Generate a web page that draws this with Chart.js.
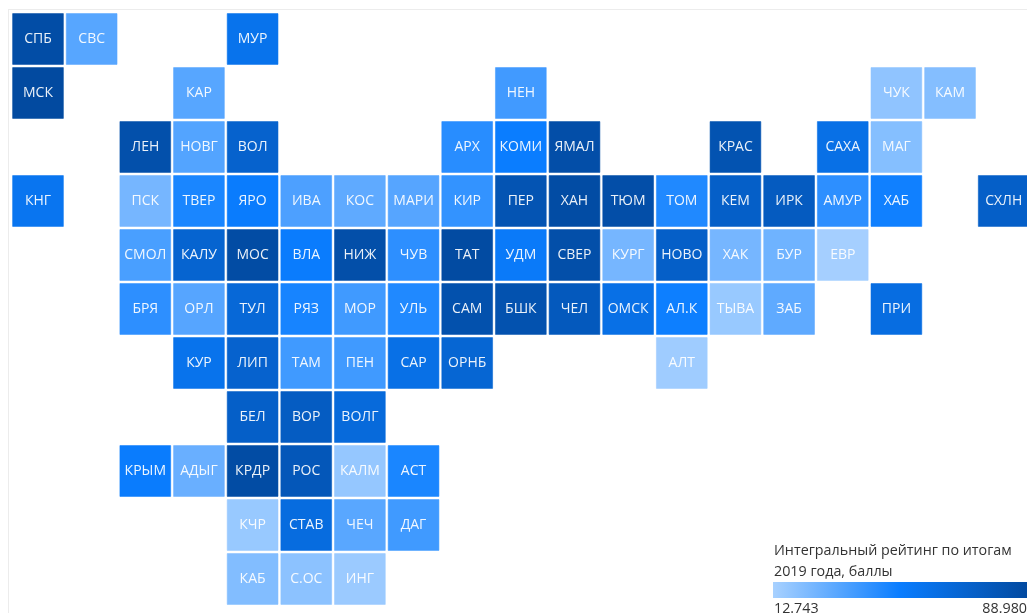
<!DOCTYPE html>
<html><head><meta charset="utf-8">
<script src="https://cdn.jsdelivr.net/npm/chart.js@4"></script>
<style>
html,body{margin:0;padding:0;background:#fff;overflow:hidden}
#wrap{position:absolute;left:0;top:0;width:1027px;height:613px}
#frame{position:absolute;left:8px;top:9px;width:1040px;height:640px;border:1px solid #ececec}
canvas{position:absolute;left:0;top:0}
</style></head><body>
<div id="wrap"><div id="frame"></div><canvas id="c" width="1027" height="613"></canvas></div>
<script>
const regions=["СПБ","СВС","МУР","МСК","КАР","НЕН","ЧУК","КАМ","ЛЕН","НОВГ","ВОЛ","АРХ","КОМИ","ЯМАЛ","КРАС","САХА","МАГ",
"КНГ","ПСК","ТВЕР","ЯРО","ИВА","КОС","МАРИ","КИР","ПЕР","ХАН","ТЮМ","ТОМ","КЕМ","ИРК","АМУР","ХАБ","СХЛН",
"СМОЛ","КАЛУ","МОС","ВЛА","НИЖ","ЧУВ","ТАТ","УДМ","СВЕР","КУРГ","НОВО","ХАК","БУР","ЕВР",
"БРЯ","ОРЛ","ТУЛ","РЯЗ","МОР","УЛЬ","САМ","БШК","ЧЕЛ","ОМСК","АЛ.К","ТЫВА","ЗАБ","ПРИ",
"КУР","ЛИП","ТАМ","ПЕН","САР","ОРНБ","АЛТ","БЕЛ","ВОР","ВОЛГ",
"КРЫМ","АДЫГ","КРДР","РОС","КАЛМ","АСТ","КЧР","СТАВ","ЧЕЧ","ДАГ","КАБ","С.ОС","ИНГ"];
const columns=[0,1,4,0,3,9,16,17,2,3,4,8,9,10,13,15,16,
0,2,3,4,5,6,7,8,9,10,11,12,13,14,15,16,18,
2,3,4,5,6,7,8,9,10,11,12,13,14,15,
2,3,4,5,6,7,8,9,10,11,12,13,14,16,
3,4,5,6,7,8,12,4,5,6,
2,3,4,5,6,7,4,5,6,7,4,5,6];
const rowsIdx=[0,0,0,1,1,1,1,1,2,2,2,2,2,2,2,2,2,
3,3,3,3,3,3,3,3,3,3,3,3,3,3,3,3,3,
4,4,4,4,4,4,4,4,4,4,4,4,4,4,
5,5,5,5,5,5,5,5,5,5,5,5,5,5,
6,6,6,6,6,6,6,7,7,7,
8,8,8,8,8,8,9,9,9,9,10,10,10];
const scores=[86.7,32.3,58.5,88.98,32.3,37.6,18.5,21.4,84.4,33.3,71.1,43.6,50.9,85.9,82.1,60.8,21.1,
57.0,24.9,47.0,51.6,34.8,30.3,32.6,41.0,81.4,87.5,85.9,45.5,73.0,76.0,42.5,49.3,73.0,
35.6,69.9,87.5,51.6,85.2,42.5,88.2,53.1,85.2,24.9,73.0,24.9,26.5,13.5,
42.5,32.6,66.9,47.8,37.9,45.5,83.6,82.9,77.5,60.8,50.1,16.5,30.3,63.0,
58.5,70.7,37.9,37.9,60.8,68.4,15.0,73.0,75.2,65.3,
51.6,28.0,87.5,79.0,17.3,47.0,16.5,63.8,31.8,37.9,21.9,19.6,15.8];
const scaleMin=12.743, scaleMax=88.980;
const legendTitle=["Интегральный рейтинг по итогам","2019 года, баллы"];
const legendLabels=["12.743","88.980"];
const rampStops=[[0,[168,209,255]],[0.5,[10,125,255]],[1,[2,74,160]]];

function colorFor(v){
  const t=(v-scaleMin)/(scaleMax-scaleMin);
  for(let i=1;i<rampStops.length;i++){
    if(t<=rampStops[i][0]){
      const [a,ca]=rampStops[i-1],[b,cb]=rampStops[i];
      const f=(t-a)/(b-a);
      return 'rgb('+ca.map((x,k)=>Math.round(x+(cb[k]-x)*f)).join(',')+')';
    }
  }
  return 'rgb('+rampStops[2][1].join(',')+')';
}
const tileLabels={id:'tileLabels',afterDatasetsDraw(chart){
  const ctx=chart.ctx, meta=chart.getDatasetMeta(0);
  ctx.save();
  ctx.fillStyle='rgba(255,255,255,0.92)';
  ctx.font='14px "Open Sans"';
  ctx.textAlign='center';ctx.textBaseline='middle';
  meta.data.forEach((el,i)=>ctx.fillText(regions[i],el.x,el.y+0.5));
  ctx.restore();
}};
const legendPlugin={id:'legendPlugin',afterDraw(chart){
  const ctx=chart.ctx;
  ctx.save();
  ctx.fillStyle='#333';
  ctx.font='14.3px "Open Sans"';
  ctx.textBaseline='middle';ctx.textAlign='left';
  ctx.fillText(legendTitle[0],774,551);
  ctx.fillText(legendTitle[1],774,572);
  const g=ctx.createLinearGradient(773,0,1027,0);
  rampStops.forEach(s=>g.addColorStop(s[0],'rgb('+s[1].join(',')+')'));
  ctx.fillStyle=g;ctx.fillRect(773,582,254,16);
  ctx.fillStyle='#333';
  ctx.fillText(legendLabels[0],774,609);
  ctx.textAlign='right';
  ctx.fillText(legendLabels[1],1027,609);
  ctx.restore();
}};
new Chart(document.getElementById('c'),{
  type:'scatter',
  data:{datasets:[{
    data:regions.map((r,i)=>({x:columns[i],y:rowsIdx[i],v:scores[i]})),
    pointStyle:'rect',
    pointRadius:35.9,
    pointHoverRadius:35.9,
    pointBorderWidth:1,
    pointBorderColor:regions.map((r,i)=>colorFor(scores[i]).replace('rgb','rgba').replace(')',',0.55)')),
    pointBackgroundColor:regions.map((r,i)=>colorFor(scores[i])),
    clip:false
  }]},
  options:{
    responsive:false,animation:false,
    layout:{padding:0,autoPadding:false},
    plugins:{legend:{display:false},tooltip:{enabled:false}},
    scales:{
      x:{type:'linear',display:false,min:-38/53.65,max:(1027-38)/53.65},
      y:{type:'linear',display:false,reverse:true,min:-39/54,max:(613-39)/54}
    }
  },
  plugins:[tileLabels,legendPlugin]
});
</script></body></html>
